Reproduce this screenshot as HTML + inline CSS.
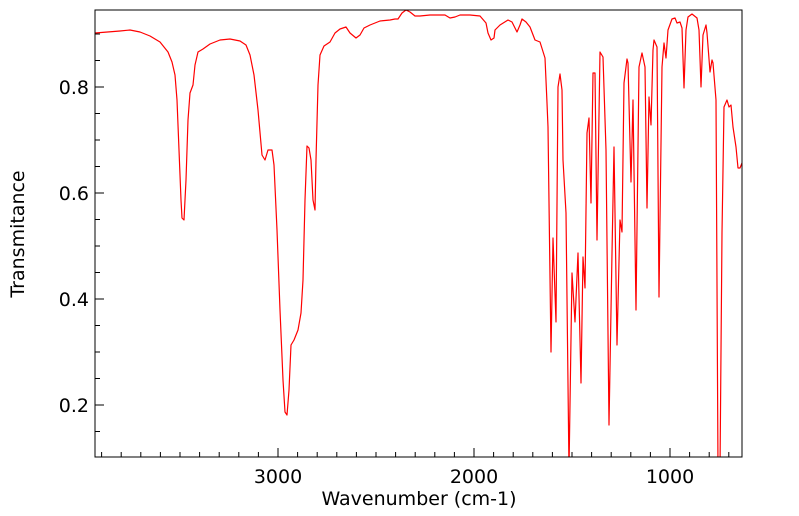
<!DOCTYPE html>
<html><head><meta charset="utf-8"><style>
html,body{margin:0;padding:0;background:#fff;}
svg{display:block;font-family:"DejaVu Sans","Liberation Sans",sans-serif;}
</style></head><body>
<svg width="799" height="516" viewBox="0 0 799 516" xmlns="http://www.w3.org/2000/svg">
<defs><clipPath id="c"><rect x="95" y="10" width="647" height="447"/></clipPath></defs>
<rect x="0" y="0" width="799" height="516" fill="#fff"/>
<g clip-path="url(#c)">
<polyline fill="none" stroke="#ff0000" stroke-width="1.2" stroke-linejoin="round" points="
95,33 120,31 130,30 140,32 150,36 160,42 168,52 172,62 175,75 177,100 179,150 181,200 182,218 184,220 186,180 188,120 190,93 193,85 195,65 198,52 203,49 210,44 220,40 230,39 240,41 246,45 250,55 254,75 258,110 262,155 265,160 268,150 272,150 274,165 277,230 280,310 283,380 285,412 287,415 289,390 291,345 294,340 298,330 301,313 303,280 305,200 307,146 309,148 311,160 313,200 315,210 316,160 318,85 320,55 324,46 330,42 335,33 340,29 346,27 350,33 356,38 360,35 364,28 370,25 380,21 390,20 395,19 398,19 402,13 406,10 410,12 415,16 420,16 430,15 445,15 450,18 455,17 460,15 470,15 480,16 486,23 488,33 491,40 494,38 495,30 500,25 508,20 512,22 515,28 517,32 520,25 522,19 526,22 530,27 535,40 540,42 545,58 547,103 548,127 551,352 553,238 556,322 558,87 560,74 562,90 563,160 566,213 569,470 572,273 575,322 578,253 581,383 583,257 585,288 587,133 589,118 591,203 593,73 595,73 597,240 600,52 603,57 606,150 609,425 612,253 614,147 617,345 620,220 622,232 624,83 627,59 628,63 631,182 633,100 636,310 639,67 642,53 645,67 647,208 649,97 651,125 653,50 654,40 657,47 659,297 662,67 664,43 666,58 668,30 672,19 675,18 677,23 680,22 682,28 684,88 686,30 688,17 692,14 697,18 699,30 701,87 703,35 706,25 707,33 710,72 712,60 713,63 716,100 718,470 720,470 722,233 724,107 727,100 729,107 731,105 733,127 736,147 738,168 740,168 742,163"/>
</g>
<rect x="95" y="10" width="647" height="447" fill="none" stroke="#000" stroke-width="1"/>
<path stroke="#000" stroke-width="1" fill="none" d="
M101.6 457v-5M121.2 457v-5M140.8 457v-5M160.4 457v-5M180 457v-5M199.6 457v-5M219.2 457v-5M238.8 457v-5M258.4 457v-5M278 457v-9M297.6 457v-5M317.2 457v-5M336.8 457v-5M356.4 457v-5M376 457v-5M395.6 457v-5M415.2 457v-5M434.8 457v-5M454.4 457v-5M474 457v-9M493.6 457v-5M513.2 457v-5M532.8 457v-5M552.4 457v-5M572 457v-5M591.6 457v-5M611.2 457v-5M630.8 457v-5M650.4 457v-5M670 457v-9M689.6 457v-5M709.2 457v-5M728.8 457v-5
M95 431.5h5M95 405h9M95 378.5h5M95 352h5M95 325.5h5M95 299h9M95 272.5h5M95 246h5M95 219.5h5M95 193h9M95 166.5h5M95 140h5M95 113.5h5M95 87h9M95 60.5h5M95 34h5"/>
<g font-size="19" fill="#000">
<text x="89" y="94" text-anchor="end">0.8</text>
<text x="89" y="200" text-anchor="end">0.6</text>
<text x="89" y="306" text-anchor="end">0.4</text>
<text x="89" y="412" text-anchor="end">0.2</text>
<text x="278" y="483" text-anchor="middle">3000</text>
<text x="474" y="483" text-anchor="middle">2000</text>
<text x="670" y="483" text-anchor="middle">1000</text>
<text x="419" y="505" text-anchor="middle">Wavenumber (cm-1)</text>
<text transform="translate(24,234) rotate(-90)" text-anchor="middle">Transmitance</text>
</g>
</svg>
</body></html>
